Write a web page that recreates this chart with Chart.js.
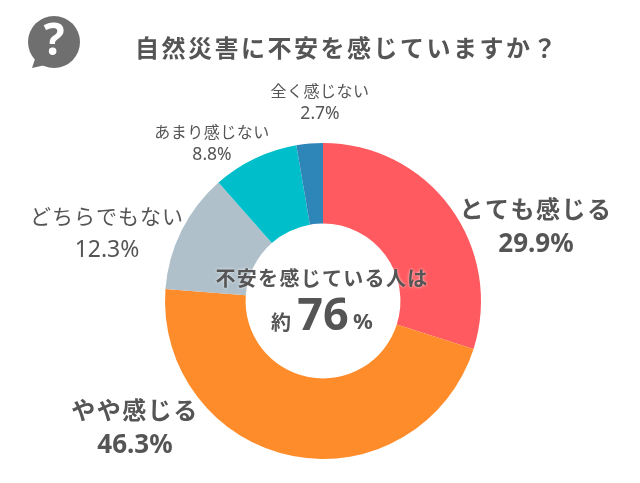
<!DOCTYPE html>
<html lang="ja">
<head>
<meta charset="utf-8">
<style>
  html, body { margin: 0; padding: 0; background: #fff; }
  #wrap { width: 640px; height: 483px; position: relative; }
</style>
<script src="https://cdn.jsdelivr.net/npm/chart.js@4/dist/chart.umd.min.js"></script>
</head>
<body>
<div id="wrap"><canvas id="chart" width="640" height="483"></canvas></div>
<script>
const categories = ['とても感じる', 'やや感じる', 'どちらでもない', 'あまり感じない', '全く感じない'];
const values = [29.9, 46.3, 12.3, 8.8, 2.7];
const colors = ['#ff5a5f', '#ff8c2a', '#b0c0ca', '#00bfca', '#2e86b8'];
const titleText = '自然災害に不安を感じていますか？';
const centerLine = '不安を感じている人は';
const centerPrefix = '約';
const centerValue = '76';
const centerSuffix = '%';

const FONT = "'Noto Sans CJK JP', sans-serif";
const INK = '#555';

// label placement, same order as categories
const LABELS = [
  { x: 536, y: 209, y2: 245, size: 24, size2: 26, weight: 'bold', spacing: 1.5 },
  { x: 135, y: 410, y2: 446, size: 24, size2: 26, weight: 'bold', spacing: 1.5 },
  { x: 107, y: 216, y2: 250, size: 21, size2: 23, weight: 'normal', spacing: 1 },
  { x: 212, y: 132, y2: 155, size: 16, size2: 17.5, weight: 'normal', spacing: 0.5 },
  { x: 320, y: 91, y2: 114, size: 16, size2: 17.5, weight: 'normal', spacing: 0.5 },
];

function put(ctx, text, x, y, font, spacing, color) {
  ctx.font = font;
  ctx.letterSpacing = (spacing || 0) + 'px';
  ctx.fillStyle = color || INK;
  ctx.fillText(text, x, y);
}

const textPlugin = {
  id: 'texts',
  afterDraw(chart) {
    const ctx = chart.ctx;
    ctx.save();
    ctx.textAlign = 'center';
    ctx.textBaseline = 'middle';

    // Question bubble icon
    ctx.fillStyle = '#6f6f6f';
    ctx.beginPath();
    ctx.arc(54, 42, 26, 0, Math.PI * 2);
    ctx.fill();
    ctx.beginPath();
    ctx.moveTo(36, 56);
    ctx.lineTo(32, 68);
    ctx.lineTo(50, 64);
    ctx.closePath();
    ctx.fill();
    put(ctx, '?', 54, 42, "bold 44px 'Noto Sans', sans-serif", 0, '#fff');

    put(ctx, titleText, 347, 48, 'bold 24px ' + FONT, 2.5);

    categories.forEach((name, i) => {
      const l = LABELS[i];
      put(ctx, name, l.x, l.y, l.weight + ' ' + l.size + 'px ' + FONT, l.spacing);
      put(ctx, values[i].toFixed(1) + '%', l.x, l.y2, l.weight + ' ' + l.size2 + "px 'Noto Sans', sans-serif", 0);
    });

    // Centre text
    ctx.shadowColor = 'rgba(255,255,255,0.8)';
    ctx.shadowBlur = 3;
    put(ctx, centerLine, 322, 278, 'bold 20px ' + FONT, 1.3);
    ctx.shadowBlur = 0;
    put(ctx, centerPrefix, 281, 322, 'bold 20px ' + FONT, 0);
    put(ctx, centerValue, 323, 317, "bold 45px 'Noto Sans', sans-serif", 0);
    put(ctx, centerSuffix, 363, 323, "bold 22px 'Noto Sans', sans-serif", 0);
    ctx.restore();
  },
};

new Chart(document.getElementById('chart'), {
  type: 'doughnut',
  data: {
    labels: categories,
    datasets: [{ data: values, backgroundColor: colors, borderWidth: 0 }],
  },
  options: {
    responsive: false,
    animation: false,
    cutout: '49%',
    layout: { padding: { left: 165, right: 159, top: 143, bottom: 24 } },
    plugins: { legend: { display: false }, tooltip: { enabled: false } },
  },
  plugins: [textPlugin],
});
</script>
</body>
</html>
